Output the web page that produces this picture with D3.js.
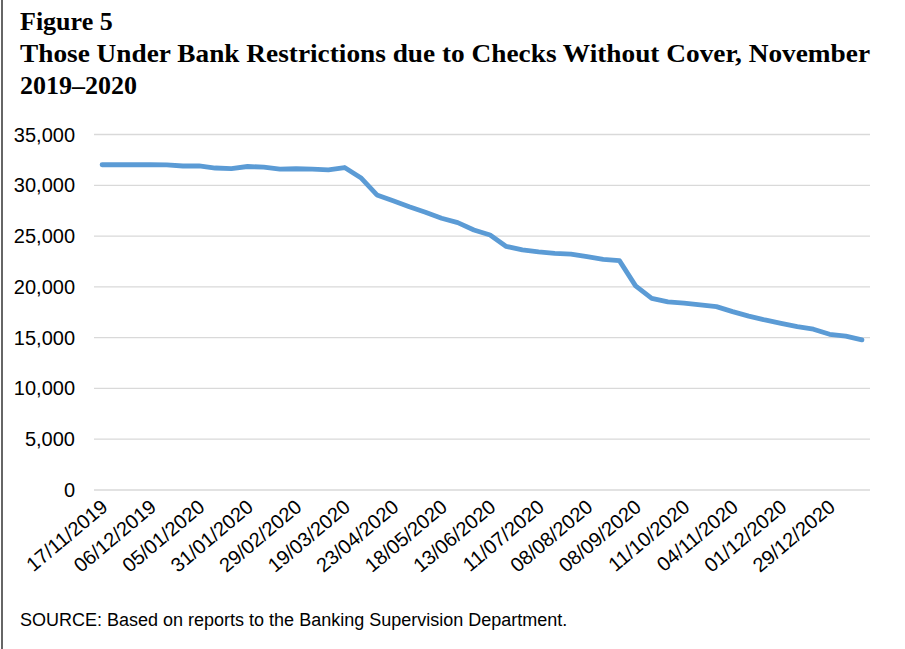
<!DOCTYPE html>
<html>
<head>
<meta charset="utf-8">
<script src="https://cdn.jsdelivr.net/npm/d3@7"></script>
<style>
  body { margin: 0; background: #fff; }
  svg { display: block; }
</style>
</head>
<body>
<div id="chart"></div>
<script>
// tick labels shown on the category axis (every third observation)
var tickLabels = ["17/11/2019", "06/12/2019", "05/01/2020", "31/01/2020", "29/02/2020",
  "19/03/2020", "23/04/2020", "18/05/2020", "13/06/2020", "11/07/2020", "08/08/2020",
  "08/09/2020", "11/10/2020", "04/11/2020", "01/12/2020", "29/12/2020"];

// number of people under restriction, one value per observation
var values = [32020, 32020, 32020, 32020, 32000, 31900, 31900, 31700, 31650, 31850,
  31780, 31600, 31630, 31600, 31520, 31750, 30750, 29050, 28480, 27880,
  27340, 26750, 26320, 25600, 25100, 23980, 23650, 23440, 23300, 23230,
  22970, 22710, 22580, 20100, 18870, 18520, 18400, 18220, 18050, 17560,
  17120, 16740, 16410, 16080, 15830, 15330, 15150, 14780];

var yTicks = [0, 5000, 10000, 15000, 20000, 25000, 30000, 35000];

var W = 905, H = 649;
var plot = {left: 94, right: 870, top: 134.5, bottom: 490};

var svg = d3.select("#chart").append("svg")
    .attr("width", W)
    .attr("height", H);

// left frame line
svg.append("line")
    .attr("x1", 2).attr("x2", 2)
    .attr("y1", 0).attr("y2", H)
    .attr("stroke", "#333").attr("stroke-width", 1.5);

// title
var title = svg.append("g")
    .attr("font-family", "'Liberation Serif', 'Times New Roman', serif")
    .attr("font-weight", "bold")
    .attr("font-size", 26)
    .attr("fill", "#000");
title.append("text").attr("x", 20).attr("y", 30).text("Figure 5");
title.append("text").attr("x", 20).attr("y", 62)
    .attr("textLength", 850).attr("lengthAdjust", "spacingAndGlyphs")
    .text("Those Under Bank Restrictions due to Checks Without Cover, November");
title.append("text").attr("x", 20).attr("y", 94).text("2019–2020");

var idx = d3.range(values.length);

var x = d3.scalePoint()
    .domain(idx)
    .range([plot.left, plot.right])
    .padding(0.5);

var y = d3.scaleLinear()
    .domain([0, 35000])
    .range([plot.bottom, plot.top]);

// gridlines
svg.append("g")
  .selectAll("line")
  .data(yTicks)
  .join("line")
    .attr("x1", plot.left).attr("x2", plot.right)
    .attr("y1", d => y(d)).attr("y2", d => y(d))
    .attr("stroke", "#d9d9d9").attr("stroke-width", 1.3);

// y axis labels
var fmt = d3.format(",");
svg.append("g")
  .selectAll("text")
  .data(yTicks)
  .join("text")
    .attr("x", 75)
    .attr("y", d => y(d))
    .attr("dy", "0.35em")
    .attr("text-anchor", "end")
    .attr("font-family", "'Liberation Sans', Arial, sans-serif")
    .attr("font-size", 20)
    .attr("fill", "#000")
    .text(d => fmt(d));

// x axis labels, rotated
svg.append("g")
  .selectAll("text")
  .data(tickLabels)
  .join("text")
    .attr("transform", (d, i) => "translate(" + (x(i * 3) + 7) + "," + 509 + ") rotate(-40)")
    .attr("text-anchor", "end")
    .attr("font-family", "'Liberation Sans', Arial, sans-serif")
    .attr("font-size", 20)
    .attr("fill", "#000")
    .text(d => d);

// the line
var line = d3.line()
    .x((d, i) => x(i))
    .y(d => y(d));

svg.append("path")
    .datum(values)
    .attr("d", line)
    .attr("fill", "none")
    .attr("stroke", "#5b9bd5")
    .attr("stroke-width", 4.8)
    .attr("stroke-linejoin", "round")
    .attr("stroke-linecap", "round");

// source note
svg.append("text")
    .attr("x", 20).attr("y", 626)
    .attr("font-family", "'Liberation Sans', Arial, sans-serif")
    .attr("font-size", 18)
    .attr("fill", "#000")
    .text("SOURCE: Based on reports to the Banking Supervision Department.");
</script>
</body>
</html>
